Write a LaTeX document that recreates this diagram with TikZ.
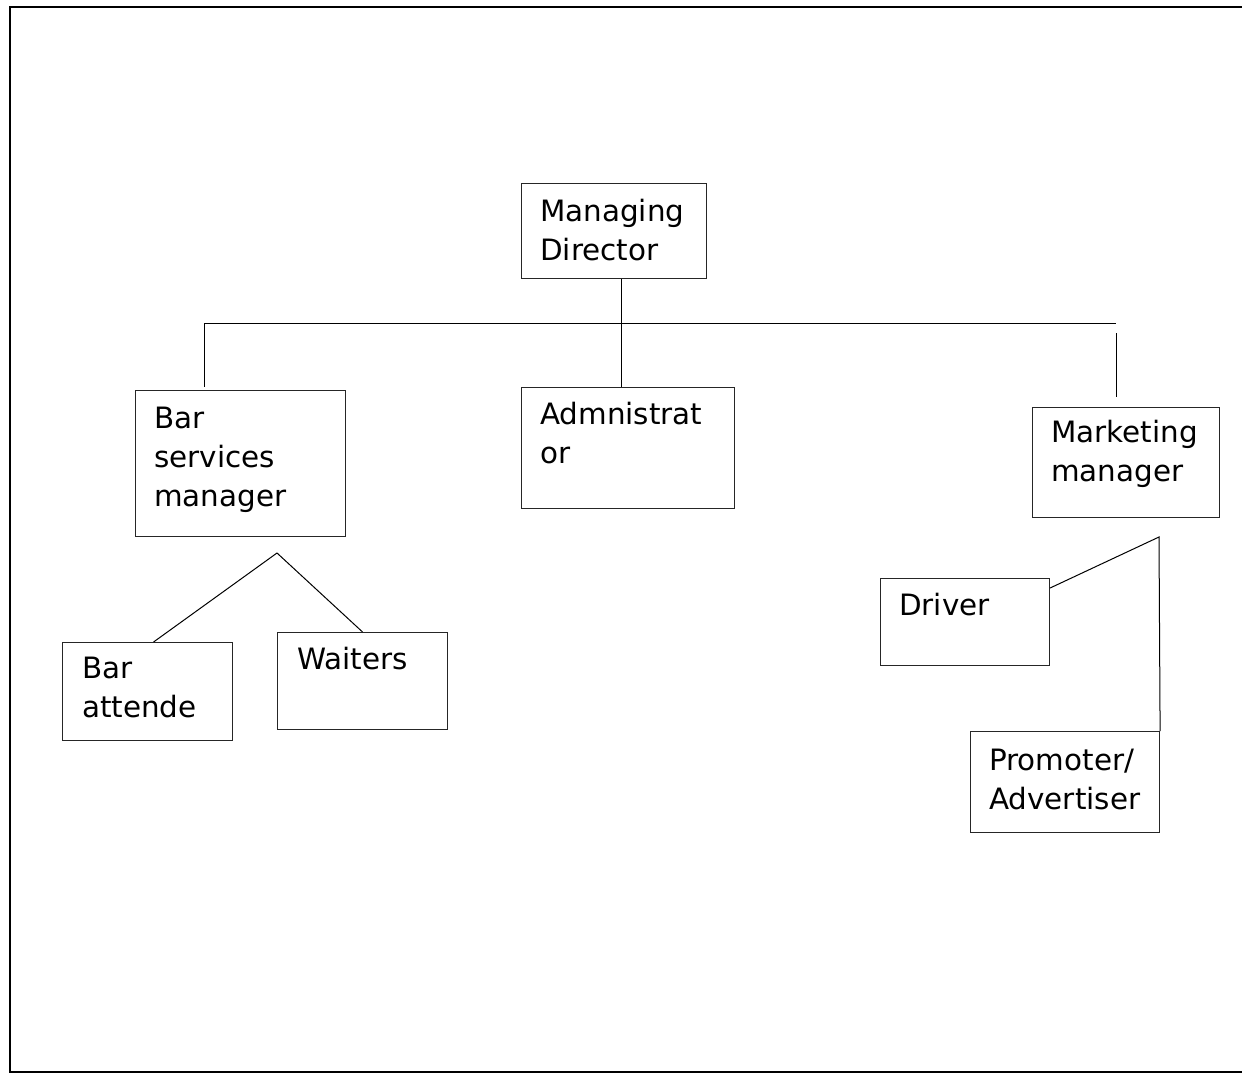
\documentclass[tikz,border=0pt]{standalone}
\usepackage{fontspec}
\setmainfont{DejaVu Sans}
\usepackage{tikz}

\tikzset{
  post/.style={draw=black!85, line width=1.1pt, anchor=north west, inner sep=0pt},
  title/.style={anchor=base west, align=left, inner sep=0pt,
    font=\fontsize{29.4}{39}\selectfont},
  link/.style={line width=1pt},
}

\begin{document}
\begin{tikzpicture}[x=1pt, y=-1pt]
    \useasboundingbox (0, 0) rectangle (1242, 1078);
    \begin{scope}
      \clip (0, 0) rectangle (1242, 1078);
      \draw[line width=1.6pt] (10, 7) rectangle (1260, 1072);
    \end{scope}

    \node[post, minimum width=185pt, minimum height=95pt] (md) at (521, 183) {};
    \node[post, minimum width=210pt, minimum height=146pt] (bsm) at (135, 390) {};
    \node[post, minimum width=213pt, minimum height=121pt] (adm) at (521, 387) {};
    \node[post, minimum width=187pt, minimum height=110pt] (mkt) at (1032, 407) {};
    \node[post, minimum width=170pt, minimum height=98pt] (ba) at (62, 642) {};
    \node[post, minimum width=170pt, minimum height=97pt] (wt) at (277, 632) {};
    \node[post, minimum width=169pt, minimum height=87pt] (drv) at (880, 578) {};
    \node[post, minimum width=189pt, minimum height=101pt] (pro) at (970, 731) {};

    % base of a text node is its last line
    \node[title] at ([xshift=19pt, yshift=-77pt]md.north west) {Managing\\Director};
    \node[title] at ([xshift=19pt, yshift=-116pt]bsm.north west) {Bar\\services\\manager};
    \node[title] at ([xshift=19pt, yshift=-76pt]adm.north west) {Admnistrat\\or};
    \node[title] at ([xshift=19pt, yshift=-74pt]mkt.north west) {Marketing\\manager};
    \node[title] at ([xshift=20pt, yshift=-75pt]ba.north west) {Bar\\attende};
    \node[title] at ([xshift=20pt, yshift=-37pt]wt.north west) {Waiters};
    \node[title] at ([xshift=19pt, yshift=-37pt]drv.north west) {Driver};
    \node[title] at ([xshift=19pt, yshift=-78pt]pro.north west) {Promoter/\\Advertiser};

    \coordinate (hub) at (621, 323);
    \coordinate (lt) at (204, 323);
    \coordinate (rt) at (1116, 323);
    \coordinate (bsplit) at (277, 553);
    \coordinate (msplit) at (1159, 537);

    \draw[link] (lt) -- (rt);
    \draw[link] (md.south -| hub) -- (adm.north -| hub);
    \draw[link] (lt) -- ([yshift=3pt]bsm.north -| lt);
    \draw[link] ([yshift=-10pt]rt) -- ([yshift=10pt]mkt.north -| rt);
    \draw[link] ([xshift=6pt]ba.north) -- (bsplit) -- (wt.north);
    \draw[link] ([yshift=-10pt]drv.north east) -- (msplit) -- (pro.north east);
  \end{tikzpicture}
\end{document}
